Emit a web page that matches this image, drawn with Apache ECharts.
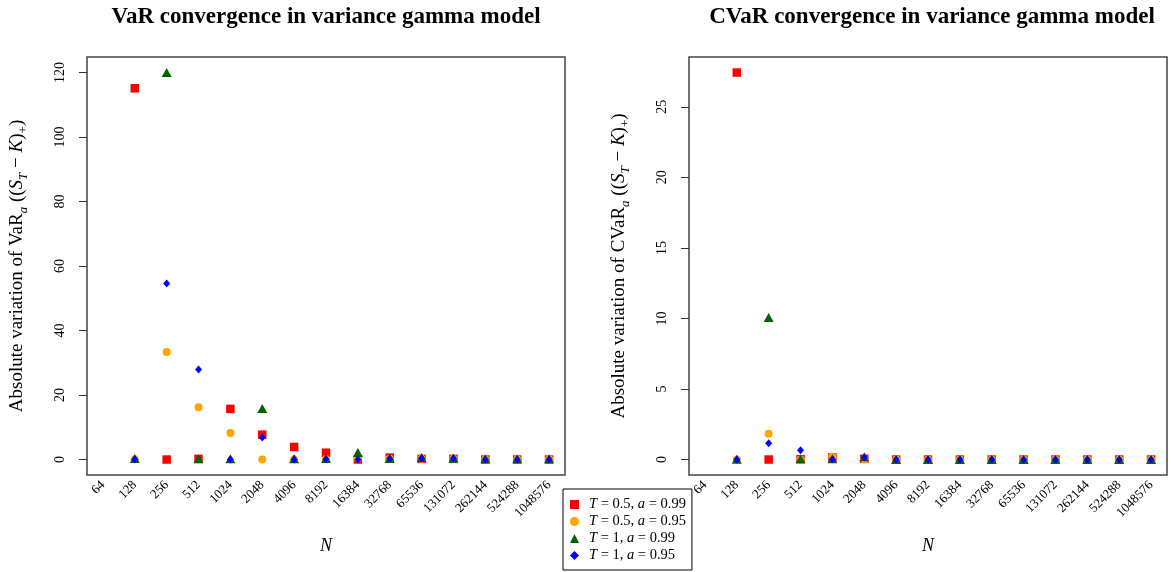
<!DOCTYPE html>
<html>
<head>
<meta charset="utf-8">
<script src="https://cdn.jsdelivr.net/npm/echarts@6/dist/echarts.min.js"></script>
<style>
  html, body { margin: 0; padding: 0; background: #fff; }
  #chart { width: 1171px; height: 572px; }
</style>
</head>
<body>
<div id="chart"></div>
<script>
// x categories (N)
const nLabels = ['64', '128', '256', '512', '1024', '2048', '4096', '8192', '16384',
  '32768', '65536', '131072', '262144', '524288', '1048576']

const seriesNames = ['T = 0.5, a = 0.99', 'T = 0.5, a = 0.95', 'T = 1, a = 0.99', 'T = 1, a = 0.95']

// VaR absolute variation (no value at N = 64)
const varT05a99 = [null, 115.1, 0, 0.2, 15.7, 7.7, 3.9, 2.1, 0, 0.6, 0.2, 0.2, 0, 0, 0]
const varT05a95 = [null, 0.1, 33.3, 16.2, 8.2, 0, 0.1, 0.1, 0.5, 0.2, 0.2, 0.2, 0.1, 0.1, 0.1]
const varT1a99 = [null, 0.3, 120, 0.2, 0.2, 15.8, 0.2, 0.3, 2.2, 0.3, 0.6, 0.4, 0.2, 0.2, 0.2]
const varT1a95 = [null, 0.1, 54.6, 27.9, 0, 6.8, 0, 0.1, 0, 0.3, 0.4, 0.4, 0, 0, 0]

// CVaR absolute variation
const cvarT05a99 = [null, 27.43, 0, 0.02, 0.15, 0.05, 0, 0, 0, 0, 0, 0, 0, 0, 0]
const cvarT05a95 = [null, 0.01, 1.82, 0.01, 0.19, 0, 0, 0, 0, 0, 0, 0, 0, 0, 0]
const cvarT1a99 = [null, 0.02, 10.06, 0.05, 0.05, 0.19, 0.01, 0.01, 0.01, 0.01, 0.01, 0.01, 0.01, 0.01, 0.01]
const cvarT1a95 = [null, 0, 1.16, 0.66, 0.02, 0.14, 0, 0, 0, 0, 0, 0, 0, 0, 0]

const varTicks = [0, 20, 40, 60, 80, 100, 120]
const cvarTicks = [0, 5, 10, 15, 20, 25]

const colors = ['#ff0000', '#ffa500', '#006400', '#0000ff']
const symbols = ['rect', 'circle', 'triangle', 'diamond']
const symbolSizes = [8.5, 8, [10, 9], [7, 8]]

const serif = '"Liberation Serif", "DejaVu Serif", serif'

const chart = echarts.init(document.getElementById('chart'))

const nameRich = {
  it: { fontStyle: 'italic', fontFamily: serif, fontSize: 19, lineHeight: 26, color: '#000' },
  s: { fontStyle: 'italic', fontFamily: serif, fontSize: 13, lineHeight: 13, verticalAlign: 'bottom', color: '#000' },
  r: { fontFamily: serif, fontSize: 13, lineHeight: 13, verticalAlign: 'bottom', color: '#000' }
}

const makeX = (gridIndex) => ({
  type: 'category',
  gridIndex: gridIndex,
  data: nLabels,
  boundaryGap: true,
  axisLine: { show: false },
  axisTick: { show: false },
  axisLabel: {
    interval: 0,
    rotate: 45,
    margin: 8,
    fontFamily: serif,
    fontSize: 13,
    color: '#000'
  },
  splitLine: { show: false },
  name: 'N',
  nameLocation: 'middle',
  nameGap: 62,
  nameTextStyle: { fontFamily: serif, fontStyle: 'italic', fontSize: 18, color: '#000' }
})

const makeY = (gridIndex, min, max, ticks, name, gap) => ({
  type: 'value',
  gridIndex: gridIndex,
  min: min,
  max: max,
  axisLine: { show: false },
  axisTick: { show: true, length: 8, lineStyle: { color: '#333', width: 1 }, customValues: ticks },
  axisLabel: {
    rotate: 90,
    margin: 20,
    fontFamily: serif,
    fontSize: 14,
    color: '#000',
    customValues: ticks
  },
  splitLine: { show: false },
  name: name,
  nameLocation: 'middle',
  nameGap: gap,
  nameTextStyle: { fontFamily: serif, fontSize: 19, lineHeight: 26, color: '#000', rich: nameRich }
})

const makeSeries = (data, i, axisIndex) => ({
  name: seriesNames[i],
  type: 'scatter',
  xAxisIndex: axisIndex,
  yAxisIndex: axisIndex,
  data: data,
  symbol: symbols[i],
  symbolSize: symbolSizes[i],
  itemStyle: { color: colors[i], opacity: 1 },
  emphasis: { disabled: true },
  animation: false
})

const option = {
  animation: false,
  backgroundColor: '#fff',
  graphic: [
    {
      type: 'text', x: 326, y: 17,
      style: {
        text: 'VaR convergence in variance gamma model',
        fontFamily: serif, fontWeight: 'bold', fontSize: 23,
        textAlign: 'center', textVerticalAlign: 'middle', fill: '#000'
      }
    },
    {
      type: 'text', x: 932, y: 17,
      style: {
        text: 'CVaR convergence in variance gamma model',
        fontFamily: serif, fontWeight: 'bold', fontSize: 23,
        textAlign: 'center', textVerticalAlign: 'middle', fill: '#000'
      }
    }
  ],
  legend: {
    orient: 'vertical',
    left: 563,
    top: 489,
    itemWidth: 9,
    itemHeight: 9,
    itemGap: 2,
    padding: [8, 6, 7, 7],
    borderColor: '#000',
    borderWidth: 1,
    borderRadius: 0,
    data: seriesNames,
    formatter: name => name.replace(/([Ta])(?= =)/g, '{i|$1}'),
    textStyle: {
      fontFamily: serif, fontSize: 14.5, color: '#000',
      padding: [0, 0, 0, 5],
      rich: { i: { fontStyle: 'italic', fontFamily: serif, fontSize: 14.5, color: '#000' } }
    }
  },
  grid: [
    { left: 87, right: 606, top: 57, bottom: 97, show: true, borderColor: '#444', borderWidth: 1.5, backgroundColor: 'transparent' },
    { left: 689, right: 4, top: 57, bottom: 97, show: true, borderColor: '#444', borderWidth: 1.5, backgroundColor: 'transparent' }
  ],
  xAxis: [makeX(0), makeX(1)],
  yAxis: [
    makeY(0, -4.8, 124.8, varTicks,
      'Absolute variation of VaR{s|a} ((S{s|T} \u2212 K){r|+})'.replace(/(S|K)(?=[{)])/g, '{it|$1}'), 57),
    makeY(1, -1.097, 28.53, cvarTicks,
      'Absolute variation of CVaR{s|a} ((S{s|T} \u2212 K){r|+})'.replace(/(S|K)(?=[{)])/g, '{it|$1}'), 57)
  ],
  series: [
    makeSeries(varT05a99, 0, 0),
    makeSeries(varT05a95, 1, 0),
    makeSeries(varT1a99, 2, 0),
    makeSeries(varT1a95, 3, 0),
    makeSeries(cvarT05a99, 0, 1),
    makeSeries(cvarT05a95, 1, 1),
    makeSeries(cvarT1a99, 2, 1),
    makeSeries(cvarT1a95, 3, 1)
  ]
}

chart.setOption(option)

window.addEventListener('resize', () => {
  if (chart) {
    chart.resize()
  }
})
</script>
</body>
</html>
